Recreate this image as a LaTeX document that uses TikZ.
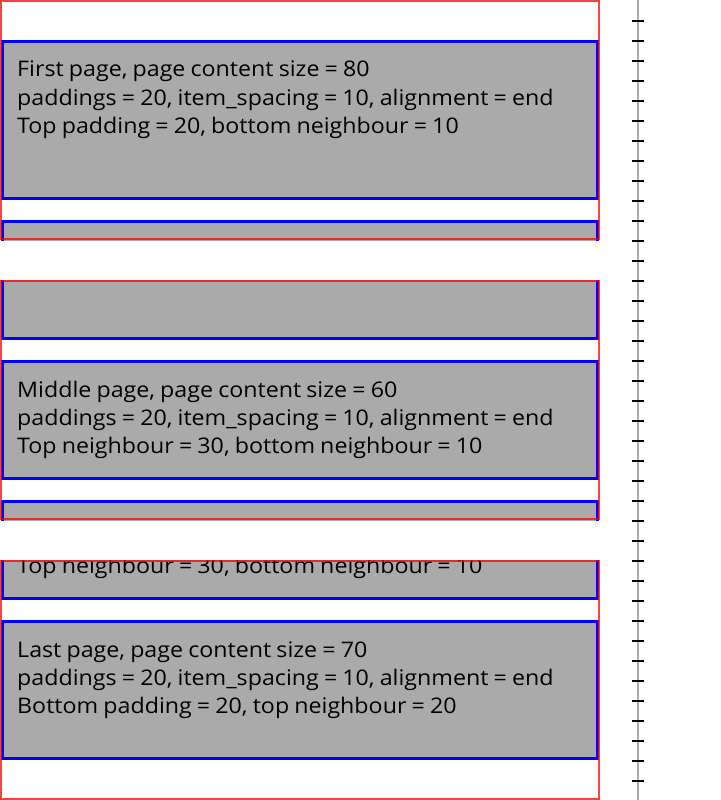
\documentclass[tikz,border=0pt]{standalone}
\usepackage{fontspec}
\setmainfont[FakeStretch=1.08,WordSpace=0.85]{Open Sans}
\definecolor{itemgray}{RGB}{170,170,170}
\definecolor{rulergray}{RGB}{170,170,170}
\begin{document}
\begin{tikzpicture}[x=1pt,y=-1pt,
  pageframe/.style={draw=red,draw opacity=0.75,line width=2pt},
  itembox/.style={fill=itemgray,draw=blue,line width=3pt},
  itemtext/.style={anchor=base west,inner sep=0pt,font=\fontsize{21.5}{26}\selectfont},
  rulerline/.style={draw=rulergray,line width=2pt},
  rulertick/.style={draw=black,line width=2pt}]
\useasboundingbox (0,0) rectangle (720,800);

% an item box between a top and a bottom edge
\newcommand\itemframe[2]{%
  \filldraw[itembox] (2.5,#1+1.5) rectangle (597.5,#2-1.5);}
% a laid-out item with its three lines of text
\newcommand\pageitem[6]{%
  \itemframe{#1}{#2}
  \node[itemtext] (#3a) at (17,#1+37) {#4};
  \node[itemtext] (#3b) at (17,#1+65) {#5};
  \node[itemtext] (#3c) at (17,#1+93) {#6};}
\def\common{paddings = 20, item\_spacing = 10, alignment = end}

% first page
\begin{scope}
  \clip (0,0) rectangle (600,240);
  \pageitem{40}{200}{pa}{First page, page content size = 80}{\common}{Top padding = 20, bottom neighbour = 10}
  \itemframe{220}{340}
\end{scope}
% middle page
\begin{scope}
  \clip (0,280) rectangle (600,520);
  \itemframe{180}{340}
  \pageitem{360}{480}{qb}{Middle page, page content size = 60}{\common}{Top neighbour = 30, bottom neighbour = 10}
  \itemframe{500}{640}
\end{scope}
% last page
\begin{scope}
  \clip (0,560) rectangle (600,800);
  \itemframe{480}{600}
  \node[itemtext] (rac) at (17,573) {Top neighbour = 30, bottom neighbour = 10};
  \pageitem{620}{760}{rb}{Last page, page content size = 70}{\common}{Bottom padding = 20, top neighbour = 20}
\end{scope}

% page frames
\draw[pageframe] (1,1) rectangle (599,239);
\draw[pageframe] (1,281) rectangle (599,519);
\draw[pageframe] (1,561) rectangle (599,799);

% ruler
\draw[rulerline] (638,0) -- (638,800);
\foreach \k in {0,...,38}
  \draw[rulertick] (632,21+20*\k) -- (644,21+20*\k);
\end{tikzpicture}
\end{document}
